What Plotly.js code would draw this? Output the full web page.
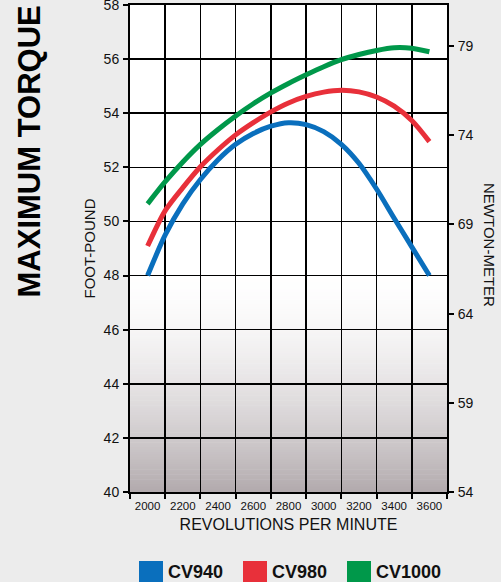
<!DOCTYPE html>
<html><head><meta charset="utf-8">
<script src="https://cdn.plot.ly/plotly-3.0.1.min.js"></script>
<style>html,body{margin:0;padding:0;background:#ececec;overflow:hidden}#chart{width:501px;height:582px;}</style>
</head><body><div id="chart"></div>
<script>
// ---- data ----
const rpm = [2000,2100,2200,2300,2400,2500,2600,2700,2800,2900,3000,3100,3200,3300,3400,3500,3600];
const cv940  = [48.0,49.5,50.65,51.55,52.28,52.85,53.25,53.52,53.65,53.58,53.32,52.85,52.15,51.2,50.12,49.06,48.0];
const cv980  = [49.09,50.4,51.25,52.02,52.65,53.2,53.65,54.05,54.38,54.62,54.78,54.85,54.79,54.6,54.26,53.73,52.95];
const cv1000 = [50.65,51.47,52.2,52.85,53.4,53.9,54.35,54.75,55.1,55.42,55.72,55.98,56.17,56.32,56.42,56.4,56.27];
const seriesNames = ['CV940','CV980','CV1000'];
const seriesColors = ['#0a6fbd','#e8303a','#00984a'];
const xTickVals = [2000,2200,2400,2600,2800,3000,3200,3400,3600];
const yTickVals = [40,42,44,46,48,50,52,54,56,58];
const nmTickVals = [54,59,64,69,74,79];

// ---- layout geometry (pixels) ----
const W = 501, H = 582;
const M = {l:130, r:54, t:5, b:90};
const PW = W - M.l - M.r, PH = H - M.t - M.b;
const px = x => (x - M.l) / PW;
const py = y => (H - M.b - y) / PH;
const FONT = 'Liberation Sans, Arial, Helvetica, sans-serif';

const seriesData = [cv940, cv980, cv1000];
const traces = seriesData.map((ys, i) => ({
  type: 'scatter', mode: 'lines', x: rpm, y: ys, name: seriesNames[i],
  line: {color: seriesColors[i], width: 5, shape: 'spline', smoothing: 0.8},
  showlegend: false, hoverinfo: 'skip'
}));
traces.push({type:'scatter', x:[null], y:[null], yaxis:'y2', showlegend:false, hoverinfo:'skip'});

// background gradient at the bottom of the plot
const shapes = [];
const gTop = 48.2, gBot = 40, steps = 90;
const endC = [178,170,173];
for (let k = 0; k < steps; k++) {
  const v0 = gTop - (gTop - gBot) * k / steps;
  const v1 = gTop - (gTop - gBot) * (k + 1) / steps;
  const t = (k + 0.5) / steps;
  const f = Math.pow(t, 1.7);
  const c = endC.map(e => Math.round(255 + (e - 255) * f));
  shapes.push({type:'rect', layer:'below', xref:'x domain', yref:'y', x0:0, x1:1, y0:v1, y1:v0 + 0.02,
    line:{width:0}, fillcolor:`rgb(${c[0]},${c[1]},${c[2]})`});
}

// legend (boxes + labels)
const annotations = [];
const legX = [139, 243, 347];
seriesNames.forEach((n, i) => {
  shapes.push({type:'rect', xref:'paper', yref:'paper', x0:px(legX[i]), x1:px(legX[i]+24),
    y0:py(585), y1:py(561), line:{width:0}, fillcolor:seriesColors[i]});
  annotations.push({text:n, xref:'paper', yref:'paper', x:px(legX[i]+27), y:py(571.5),
    xanchor:'left', yanchor:'middle', showarrow:false,
    font:{family:FONT, size:18, color:'#111', weight:'bold'}});
});

annotations.push({text:'MAXIMUM TORQUE', xref:'paper', yref:'paper', x:px(29), y:py(151.5),
  textangle:-90, showarrow:false, xanchor:'center', yanchor:'middle',
  font:{family:FONT, size:31, color:'#000', weight:'bold'}});
annotations.push({text:'NEWTON-METER', xref:'paper', yref:'paper', x:px(490), y:py(245),
  textangle:90, showarrow:false, xanchor:'center', yanchor:'middle',
  font:{family:FONT, size:15, color:'#111'}});

const layout = {
  width: W, height: H,
  margin: M,
  paper_bgcolor: '#ececec',
  plot_bgcolor: '#ffffff',
  showlegend: false,
  font: {family: FONT, color: '#111'},
  xaxis: {
    range: [1900, 3700], tickmode:'array', tickvals: xTickVals, ticks: '',
    showgrid: false, zeroline: false,
    showline: true, linecolor: '#000', linewidth: 2, mirror: true,
    tickfont: {family: FONT, size: 11.5, color:'#111'},
    ticklabelstandoff: 2,
    minor: {tick0: 1900, dtick: 200, ticks: 'outside', ticklen: 5, tickwidth: 2, tickcolor: '#000',
            showgrid: true, gridcolor: '#000', gridwidth: 1.5},
    title: {text: 'REVOLUTIONS PER MINUTE', font: {family: FONT, size: 16, color: '#111'}, standoff: 8}
  },
  yaxis: {
    range: [40, 58], tickmode:'array', tickvals: yTickVals, ticks: 'outside', ticklen: 5, tickwidth: 2, tickcolor:'#000',
    showgrid: true, gridcolor: '#000', gridwidth: 1.5, zeroline: false,
    showline: true, linecolor: '#000', linewidth: 2, mirror: true,
    tickfont: {family: FONT, size: 14, color:'#111'}, ticklabelstandoff: 1, ticklabeloverflow: 'allow',
    title: {text: 'FOOT-POUND', font: {family: FONT, size: 15, color: '#111'}, standoff: 4}
  },
  yaxis2: {
    overlaying: 'y', side: 'right', range: [54, 81.3], tickmode:'array', tickvals: nmTickVals,
    ticks: 'outside', ticklen: 5, tickwidth: 2, tickcolor:'#000', showgrid: false, zeroline: false,
    showline: true, linecolor:'#000', linewidth: 2,
    tickfont: {family: FONT, size: 14, color:'#111'}, ticklabelstandoff: 1, ticklabeloverflow: 'allow'
  },
  shapes: shapes,
  annotations: annotations
};

Plotly.newPlot('chart', traces, layout, {staticPlot: true, displayModeBar: false});
</script>
</body></html>
